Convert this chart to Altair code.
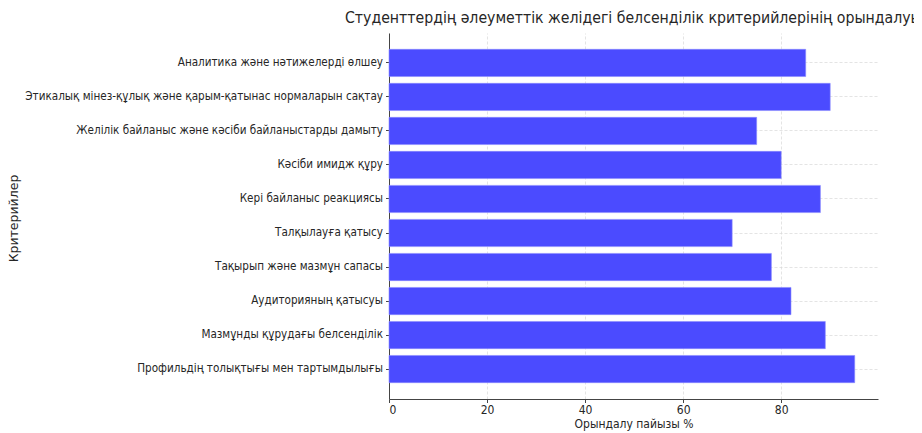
import altair as alt
import pandas as pd

criteria = [
    "Аналитика және нәтижелерді өлшеу",
    "Этикалық мінез-құлық және қарым-қатынас нормаларын сақтау",
    "Желілік байланыс және кәсіби байланыстарды дамыту",
    "Кәсіби имидж құру",
    "Кері байланыс реакциясы",
    "Талқылауға қатысу",
    "Тақырып және мазмұн сапасы",
    "Аудиторияның қатысуы",
    "Мазмұнды құрудағы белсенділік",
    "Профильдің толықтығы мен тартымдылығы",
]
percent = [85, 90, 75, 80, 88, 70, 78, 82, 89, 95]
x_ticks = [0, 20, 40, 60, 80]

df = pd.DataFrame({"criterion": criteria, "value": percent})

FONT = "DejaVu Sans Condensed"

chart = alt.Chart(df).mark_bar(
    color="#4b4bff", stroke="#8a8aff", strokeWidth=0.6
).encode(
    y=alt.Y(
        "criterion:N",
        sort=criteria,
        title="Критерийлер",
        scale=alt.Scale(paddingInner=0.2, paddingOuter=0.48),
        axis=alt.Axis(
            labelLimit=600, labelFontSize=11.6, labelColor="#262626",
            titleFont="DejaVu Sans", titleFontSize=12.5,
            titleFontWeight="normal", titleColor="#262626",
            titleX=-369, titleY=185,
            grid=True, bandPosition=0.5, gridDash=[3, 2], gridColor="#d8d8d8",
            gridWidth=0.7, tickSize=3.5, tickColor="#444", domainColor="#444",
            labelPadding=3,
        ),
    ),
    x=alt.X(
        "value:Q",
        title="Орындалу пайызы %",
        scale=alt.Scale(domain=[0, 99.75], nice=False, zero=True),
        axis=alt.Axis(
            values=x_ticks, labelFontSize=12, labelColor="#262626",
            titleFontSize=12, titleFontWeight="normal", titleColor="#262626",
            grid=True, gridDash=[3, 2], gridColor="#d8d8d8", gridWidth=0.7,
            tickSize=3.5, tickColor="#444", domainColor="#444",
            labelPadding=2, titlePadding=3,
        ),
    ),
).properties(
    width=489,
    height=366,
    title=alt.TitleParams(
        "Студенттердің әлеуметтік желідегі белсенділік критерийлерінің орындалуы",
        anchor="start", frame="group", dx=-44, fontSize=15.7, fontWeight="normal",
        color="#262626", font=FONT, offset=6,
    ),
    autosize=alt.AutoSizeParams(type="none"),
    padding={"left": 381, "top": 25, "right": 36, "bottom": 34},
).configure(font=FONT).configure_view(stroke=None)

chart.save("out.html", embed_options={"renderer": "svg", "actions": False})
